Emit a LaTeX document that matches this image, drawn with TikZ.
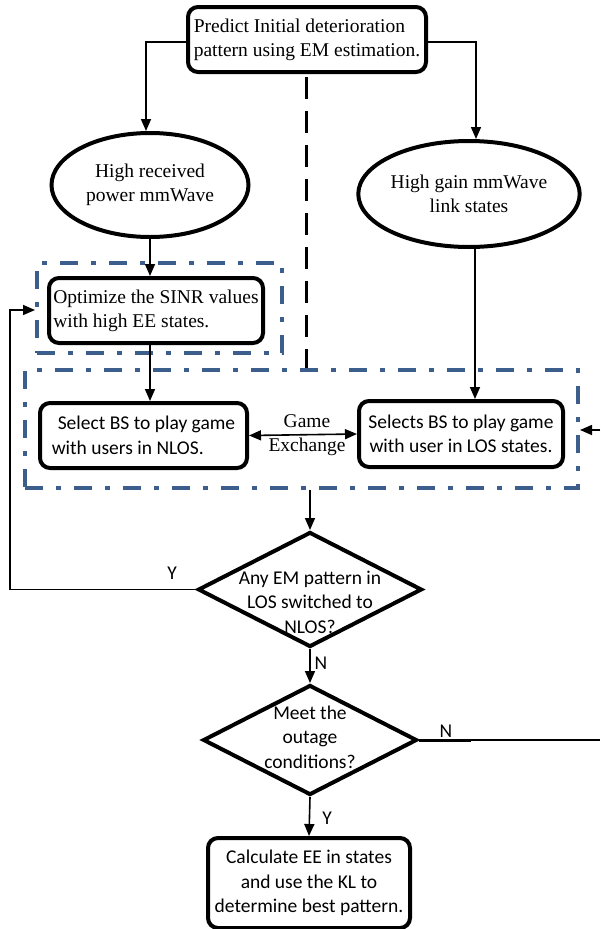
\documentclass[tikz,border=0pt]{standalone}
\usepackage{fontspec}
\setmainfont{Liberation Serif}
\newfontfamily\calfont{Carlito}
\usetikzlibrary{arrows.meta,shapes.geometric,calc}
\definecolor{grpblue}{RGB}{59,94,140}
\begin{document}
\begin{tikzpicture}[x=1pt,y=-1pt,
  tf/.style={font=\fontsize{19.5}{24}\selectfont},
  cf/.style={font=\calfont\fontsize{19.5}{24.5}\selectfont},
  box/.style={draw, line width=4pt, rounded corners=10pt, inner sep=0pt},
  ell/.style={ellipse, draw, line width=4pt, inner sep=0pt},
  dia/.style={diamond, draw, line width=4pt, inner sep=0pt},
  grp/.style={draw=grpblue, line width=4pt, dash pattern=on 18pt off 13pt on 5pt off 13pt, inner sep=0pt},
  blackdash/.style={draw=black, line width=3pt, dash pattern=on 22pt off 12pt},
  ln/.style={line width=1.6pt},
  arr/.style={line width=1.6pt, -{Triangle[length=12pt,width=10pt]}},
  dbl/.style={line width=1.6pt, {Triangle[length=12pt,width=10pt]}-{Triangle[length=12pt,width=10pt]}}
]
\useasboundingbox (0,0) rectangle (600,929);

\node[box, minimum width=238, minimum height=65, align=left, tf] (top) at (307,39.5) {Predict Initial deterioration\\pattern using EM estimation.};
\node[ell, minimum width=197, minimum height=104, align=center, tf] (e1) at (150,185) {High received\\power mmWave};
\node[ell, minimum width=196, minimum height=106, align=center, tf] (e2) at (469,194) {High gain mmWave\\link states};
\node[grp, minimum width=245, minimum height=90] (g1) at (159.5,308) {};
\node[box, minimum width=214, minimum height=65, align=left, tf] (sinr) at (156,310.5) {Optimize the SINR values\\with high EE states.};
\node[grp, minimum width=553, minimum height=118] (g2) at (301.5,429) {};
\node[box, minimum width=207, minimum height=65, align=left, cf] (nlos) at (143.5,435.5) {\hspace*{6pt}Select BS to play game\\with users in NLOS.};
\node[box, minimum width=204, minimum height=66, align=center, cf] (los) at (461,434) {Selects BS to play game\\with user in LOS states.};
\node[dia, minimum width=224, minimum height=115] (d1) at (310,589.5) {};
\node[cf, align=center] (d1t) at (310,602) {Any EM pattern in\\LOS switched to\\NLOS?};
\node[dia, minimum width=214, minimum height=110] (d2) at (310,740) {};
\node[cf, align=center] (d2t) at (310,737) {Meet the\\outage\\conditions?};
\node[box, minimum width=202, minimum height=90, align=center, cf] (bot) at (309,883) {Calculate EE in states\\and use the KL to\\determine best pattern.};

% black dashed divider
\coordinate (dtop) at (306,77);
\draw[blackdash] (dtop) -- (dtop |- g2.north);

% connectors
\draw[arr] ([yshift=-2.5pt]top.west) -| ([xshift=-4pt]e1.north);
\draw[arr] ([yshift=-2.5pt]top.east) -| ([xshift=7pt]e2.north);
\draw[arr] (e1.south) -- (e1.south |- sinr.north);
\draw[arr] (e1.south |- sinr.south) -- (e1.south |- nlos.north);
\draw[arr] ([xshift=6pt]e2.south) -- ([xshift=6pt]e2.south |- los.north);
\draw[dbl] (nlos.east) -- (los.west);
\node[tf, align=center] (ge) at (307,435) {Game\\Exchange};
\coordinate (rin) at (600,430);
\draw[arr] (rin) -- (rin -| g2.east);
\draw[arr] (d1.north |- g2.south) -- (d1.north);
\coordinate (lx) at (10,589.5);
\draw[arr] (d1.west) -- (lx) |- ([yshift=-2pt]g1.west);
\node[cf] (ylab) at (172,573) {Y};
\draw[arr] (d1.south) -- (d2.north);
\node[cf] (n1) at (321,663) {N};
\coordinate (nk) at (471,740);
\coordinate (rout) at (600,740);
\draw[line width=3pt] (d2.east) -- (nk);
\draw[ln] (nk) -- (rout);
\node[cf] (n2) at (446,731) {N};
\draw[arr] (d2.south) -- (bot.north);
\node[cf] (y2) at (327,818) {Y};
\end{tikzpicture}
\end{document}
